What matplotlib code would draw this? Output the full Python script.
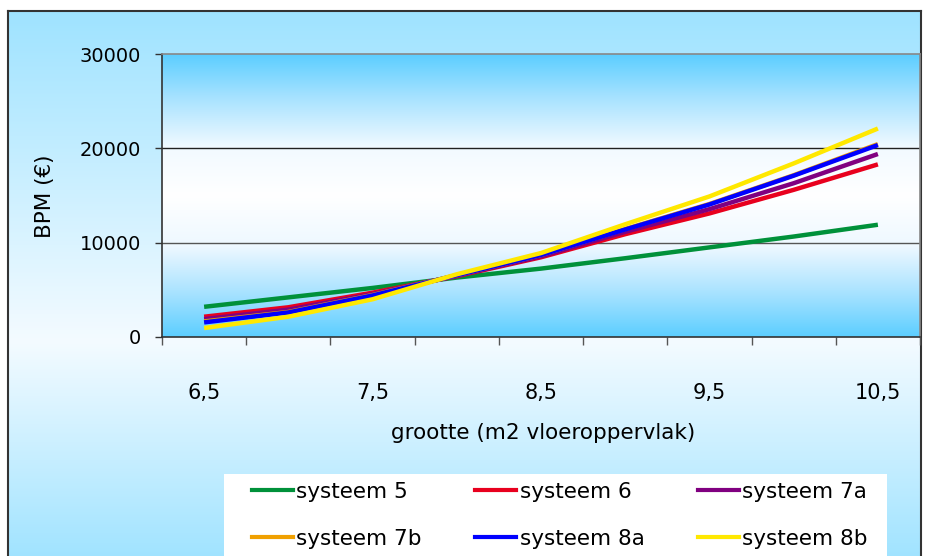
import matplotlib
matplotlib.use("Agg")
import matplotlib.pyplot as plt
import numpy as np
from matplotlib.colors import LinearSegmentedColormap
from matplotlib.lines import Line2D
from matplotlib.patches import Rectangle

# data
sizes = ["6,5", "7", "7,5", "8", "8,5", "9", "9,5", "10", "10,5"]
systeem_5 = [3200, 4200, 5200, 6300, 7250, 8350, 9500, 10650, 11900]
systeem_6 = [2150, 3150, 4700, 6450, 8450, 10900, 13100, 15600, 18300]
systeem_7a = [1900, 2900, 4550, 6500, 8550, 11150, 13550, 16300, 19400]
systeem_7b = [1650, 2650, 4450, 6550, 8700, 11450, 14100, 17150, 20450]
systeem_8a = [1550, 2600, 4400, 6550, 8700, 11400, 14050, 17100, 20350]
systeem_8b = [950, 2150, 4000, 6650, 8900, 11950, 14900, 18400, 22100]
series_names = ["systeem 5", "systeem 6", "systeem 7a", "systeem 7b", "systeem 8a", "systeem 8b"]
y_ticks = [0, 10000, 20000, 30000]

series = [systeem_5, systeem_6, systeem_7a, systeem_7b, systeem_8a, systeem_8b]
colors = ["#00913A", "#E8001E", "#800080", "#F0A000", "#0000FF", "#FFE800"]

W, H = 926, 556
plt.rcParams["font.family"] = "DejaVu Sans"

fig = plt.figure(figsize=(W / 100, H / 100), dpi=100, facecolor="white")


def fx(px):
    return px / W


def fy(py):
    return 1 - py / H


def gradient(ax, stops, zorder=0):
    cmap = LinearSegmentedColormap.from_list("g", stops)
    grad = np.linspace(0, 1, 256).reshape(-1, 1)
    ax.imshow(grad, cmap=cmap, aspect="auto", extent=[0, 1, 0, 1],
              transform=ax.transAxes, zorder=zorder, interpolation="bilinear")


# outer chart area
bg = fig.add_axes([fx(8), -0.01, fx(921) - fx(8), fy(11) + 0.01])
gradient(bg, [(0.0, "#9FE3FF"), (0.6, "#F4FBFF"), (1.0, "#9FE3FF")])
bg.set_xlim(0, 1)
bg.set_ylim(0, 1)
bg.set_xticks([])
bg.set_yticks([])
for side in ["left", "top", "right"]:
    bg.spines[side].set_color("#333333")
    bg.spines[side].set_linewidth(1.5)
bg.spines["bottom"].set_visible(False)

# plot area
ax = fig.add_axes([fx(162), fy(337), fx(920) - fx(162), fy(54) - fy(337)])
gradient(ax, [(0.0, "#5CCEFF"), (0.15, "#A6E2FF"), (0.33, "#F2FAFF"),
              (0.50, "#FFFFFF"), (0.68, "#EEF8FF"), (0.85, "#A6E2FF"),
              (1.0, "#5CCEFF")])

x = np.arange(len(sizes))
for vals, name, c in zip(series, series_names, colors):
    ax.plot(x, vals, color=c, lw=3.2, label=name, zorder=3, solid_capstyle="butt")

ax.set_xlim(-0.5, len(sizes) - 0.5)
ax.set_ylim(0, 30000)
ax.axhline(10000, color="#555555", lw=1.0, zorder=2)
ax.axhline(20000, color="#202020", lw=1.0, zorder=2)

ax.set_yticks(y_ticks)
ax.set_yticklabels([str(v) for v in y_ticks], fontsize=14)
ax.tick_params(axis="y", direction="out", length=5, width=1, pad=10, color="#333333")

ax.set_xticks(x[::2])
ax.set_xticklabels(sizes[::2], fontsize=15)
ax.set_xticks(np.arange(-0.5, len(sizes)), minor=True)
ax.tick_params(axis="x", which="major", length=0, pad=33)
ax.tick_params(axis="x", which="minor", direction="out", length=6, width=1, color="#555555")

ax.spines["left"].set_color("#333333")
ax.spines["bottom"].set_color("#333333")
ax.spines["top"].set_color("#888888")
ax.spines["right"].set_color("#888888")
for s in ax.spines.values():
    s.set_linewidth(1.2)

fig.text(fx(543), fy(433), "grootte (m2 vloeroppervlak)", fontsize=15.5,
         ha="center", va="center")
fig.text(fx(45), fy(196), "BPM (€)", fontsize=15.5, rotation=90,
         ha="center", va="center")

# legend box, filled row by row like the reference
fig.patches.append(Rectangle((fx(224), 0), fx(887) - fx(224), fy(474),
                             transform=fig.transFigure, facecolor="white",
                             edgecolor="none", zorder=1))
handles = [Line2D([], [], color=c, lw=3.0) for c in colors]
order = [0, 3, 1, 4, 2, 5]
fig.legend([handles[i] for i in order], [series_names[i] for i in order],
           ncol=3, loc="upper left", bbox_to_anchor=(fx(252), fy(482)),
           frameon=False, fontsize=15.5, handlelength=1.9, handletextpad=0.15,
           columnspacing=2.5, labelspacing=1.25, borderpad=0, borderaxespad=0)

fig.savefig("out.png", dpi=100, facecolor="white")
